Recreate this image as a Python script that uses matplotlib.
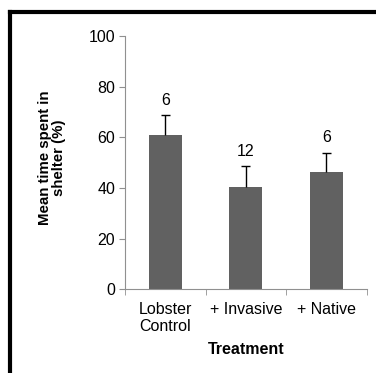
import matplotlib.pyplot as plt
import numpy as np

plt.rcParams['font.family'] = ['Liberation Sans', 'DejaVu Sans']

categories = ["Lobster\nControl", "+ Invasive", "+ Native"]
means = [61, 40.5, 46.5]
errors = [7.7, 8.0, 7.3]
n_labels = ["6", "12", "6"]
yticks = [0, 20, 40, 60, 80, 100]

fig = plt.figure(figsize=(3.76, 3.73), dpi=100)
ax = fig.add_axes([125 / 376, 1 - 289.3 / 373, (366.7 - 125) / 376, (289.3 - 36) / 373])

x = np.arange(len(categories))
ax.bar(x, means, width=0.41, color="#616161", zorder=2)
# upward-only error bars with a cap on top
tops = np.array(means) + np.array(errors)
ax.vlines(x, means, tops, color="black", linewidth=1, zorder=3)
ax.hlines(tops, x - 0.055, x + 0.055, color="black", linewidth=1, zorder=3)
for xi, t, lab in zip(x, tops, n_labels):
    ax.text(xi, t + 3, lab, ha="center", va="bottom", fontsize=11.5)

ax.set_xlim(-0.5, 2.5)
ax.set_ylim(0, 100)
ax.set_yticks(yticks)
ax.set_xticks(x)
ax.set_xticklabels(categories, fontsize=11.5, linespacing=1.15)
ax.set_xticks([-0.5, 0.5, 1.5, 2.5], minor=True)
ax.tick_params(axis="x", which="major", length=0, pad=9)
ax.tick_params(axis="x", which="minor", length=4, color="#909090")
ax.tick_params(axis="y", length=4, color="#909090", labelsize=11.5, pad=3)
for s in ["top", "right"]:
    ax.spines[s].set_visible(False)
for s in ["left", "bottom"]:
    ax.spines[s].set_color("#909090")
    ax.spines[s].set_linewidth(0.8)

ax.set_ylabel("Mean time spent in\nshelter (%)", fontsize=10.8, fontweight="bold",
              linespacing=1.05)
ax.yaxis.set_label_coords(-0.243, 0.52)
ax.set_xlabel("Treatment", fontsize=11.5, fontweight="bold", labelpad=6)

# frame lines at left and top of the image
fig.add_artist(plt.Line2D([10 / 376, 10 / 376], [0, 1 - 12 / 373], color="black", linewidth=3,
                          transform=fig.transFigure, solid_capstyle="projecting"))
fig.add_artist(plt.Line2D([10 / 376, 1], [1 - 12 / 373, 1 - 12 / 373], color="black", linewidth=3,
                          transform=fig.transFigure, solid_capstyle="projecting"))

fig.savefig("out.png", dpi=100)
